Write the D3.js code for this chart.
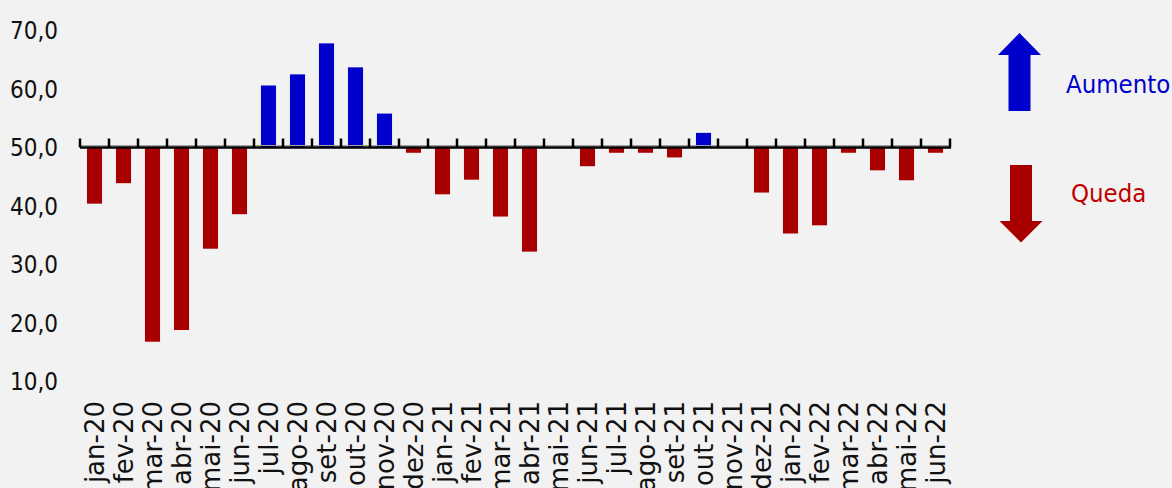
<!DOCTYPE html>
<html>
<head>
<meta charset="utf-8">
<script src="https://cdn.jsdelivr.net/npm/d3@7"></script>
<style>
  html, body { margin: 0; padding: 0; background: #f2f2f2; }
  svg { display: block; }
  text { font-family: "DejaVu Sans Condensed", "DejaVu Sans", sans-serif; }
</style>
</head>
<body>
<svg id="chart" width="1172" height="488"></svg>
<script>
const categories = ["jan-20","fev-20","mar-20","abr-20","mai-20","jun-20","jul-20","ago-20","set-20","out-20","nov-20","dez-20",
  "jan-21","fev-21","mar-21","abr-21","mai-21","jun-21","jul-21","ago-21","set-21","out-21","nov-21","dez-21",
  "jan-22","fev-22","mar-22","abr-22","mai-22","jun-22"];
const values = [40.4, 43.9, 16.8, 18.8, 32.7, 38.6, 60.6, 62.5, 67.8, 63.7, 55.8, 49.1,
  42.0, 44.5, 38.2, 32.2, 50.0, 46.8, 49.1, 49.1, 48.3, 52.5, 50.0, 42.3,
  35.3, 36.7, 49.1, 46.1, 44.4, 49.1];
const yTicks = [10, 20, 30, 40, 50, 60, 70];
const baseline = 50;
const legendLabels = ["Aumento", "Queda"];

const upColor = "#0000cc", downColor = "#a80000";

const svg = d3.select("#chart");
svg.append("rect").attr("width", 1172).attr("height", 488).attr("fill", "#f2f2f2");

const x = d3.scaleBand().domain(categories).range([80, 950]).paddingInner(0.48).paddingOuter(0.24);
const y = d3.scaleLinear().domain([10, 70]).range([381.5, 30.5]);

const fmt = d3.formatLocale({decimal: ",", thousands: ".", grouping: [3], currency: ["", ""]}).format(".1f");

// bars
svg.append("g").selectAll("rect").data(values).join("rect")
  .attr("x", (d, i) => x(categories[i]))
  .attr("width", x.bandwidth())
  .attr("y", d => y(Math.max(d, baseline)))
  .attr("height", d => Math.abs(y(d) - y(baseline)))
  .attr("fill", d => d >= baseline ? upColor : downColor);

// y tick labels
const yAxis = d3.axisLeft(y).tickValues(yTicks).tickFormat(fmt).tickSize(0).tickPadding(0);
const gy = svg.append("g").attr("transform", "translate(58,0)").call(yAxis);
gy.select(".domain").remove();
gy.selectAll("text").attr("font-size", 24).attr("fill", "#111").attr("dy", "0.35em")
  .style("font-family", '"DejaVu Sans Condensed", "DejaVu Sans", sans-serif');

// baseline axis with upward ticks
const step = x.step();
const x0 = x.range()[0];
const boundaries = d3.range(categories.length + 1).map(i => x0 + i * step);
const gx = svg.append("g");
gx.append("line").attr("x1", x0).attr("x2", x.range()[1] + 1).attr("y1", y(baseline) - 2).attr("y2", y(baseline) - 2)
  .attr("stroke", "#a0a0a0").attr("stroke-width", 1);
gx.append("line").attr("x1", x0).attr("x2", x.range()[1] + 1).attr("y1", y(baseline)).attr("y2", y(baseline))
  .attr("stroke", "#000").attr("stroke-width", 2.5);
gx.selectAll("line.tick").data(boundaries).join("line").attr("class", "tick")
  .attr("x1", d => d).attr("x2", d => d)
  .attr("y1", y(baseline) - 9).attr("y2", y(baseline))
  .attr("stroke", "#000").attr("stroke-width", 2.5);

// x labels
svg.append("g").selectAll("text").data(categories).join("text")
  .attr("transform", d => `translate(${x(d) + x.bandwidth() / 2},401) rotate(-90)`)
  .attr("text-anchor", "end")
  .attr("dy", "0.36em")
  .attr("font-size", 26)
  .attr("fill", "#111")
  .style("font-family", '"DejaVu Sans", sans-serif')
  .text(d => d);

// legend
const lg = svg.append("g");
lg.append("path")
  .attr("d", "M1019.5,33 L1041,55 L1030.5,55 L1030.5,111 L1008.5,111 L1008.5,55 L998,55 Z")
  .attr("fill", upColor);
lg.append("path")
  .attr("d", "M1010,165 L1032,165 L1032,221 L1042.5,221 L1021,242.5 L999.5,221 L1010,221 Z")
  .attr("fill", downColor);
lg.append("text").attr("x", 1066).attr("y", 93).attr("font-size", 25.5).attr("fill", upColor).text(legendLabels[0]);
lg.append("text").attr("x", 1071).attr("y", 202).attr("font-size", 25.5).attr("fill", "#c00000").text(legendLabels[1]);
</script>
</body>
</html>
